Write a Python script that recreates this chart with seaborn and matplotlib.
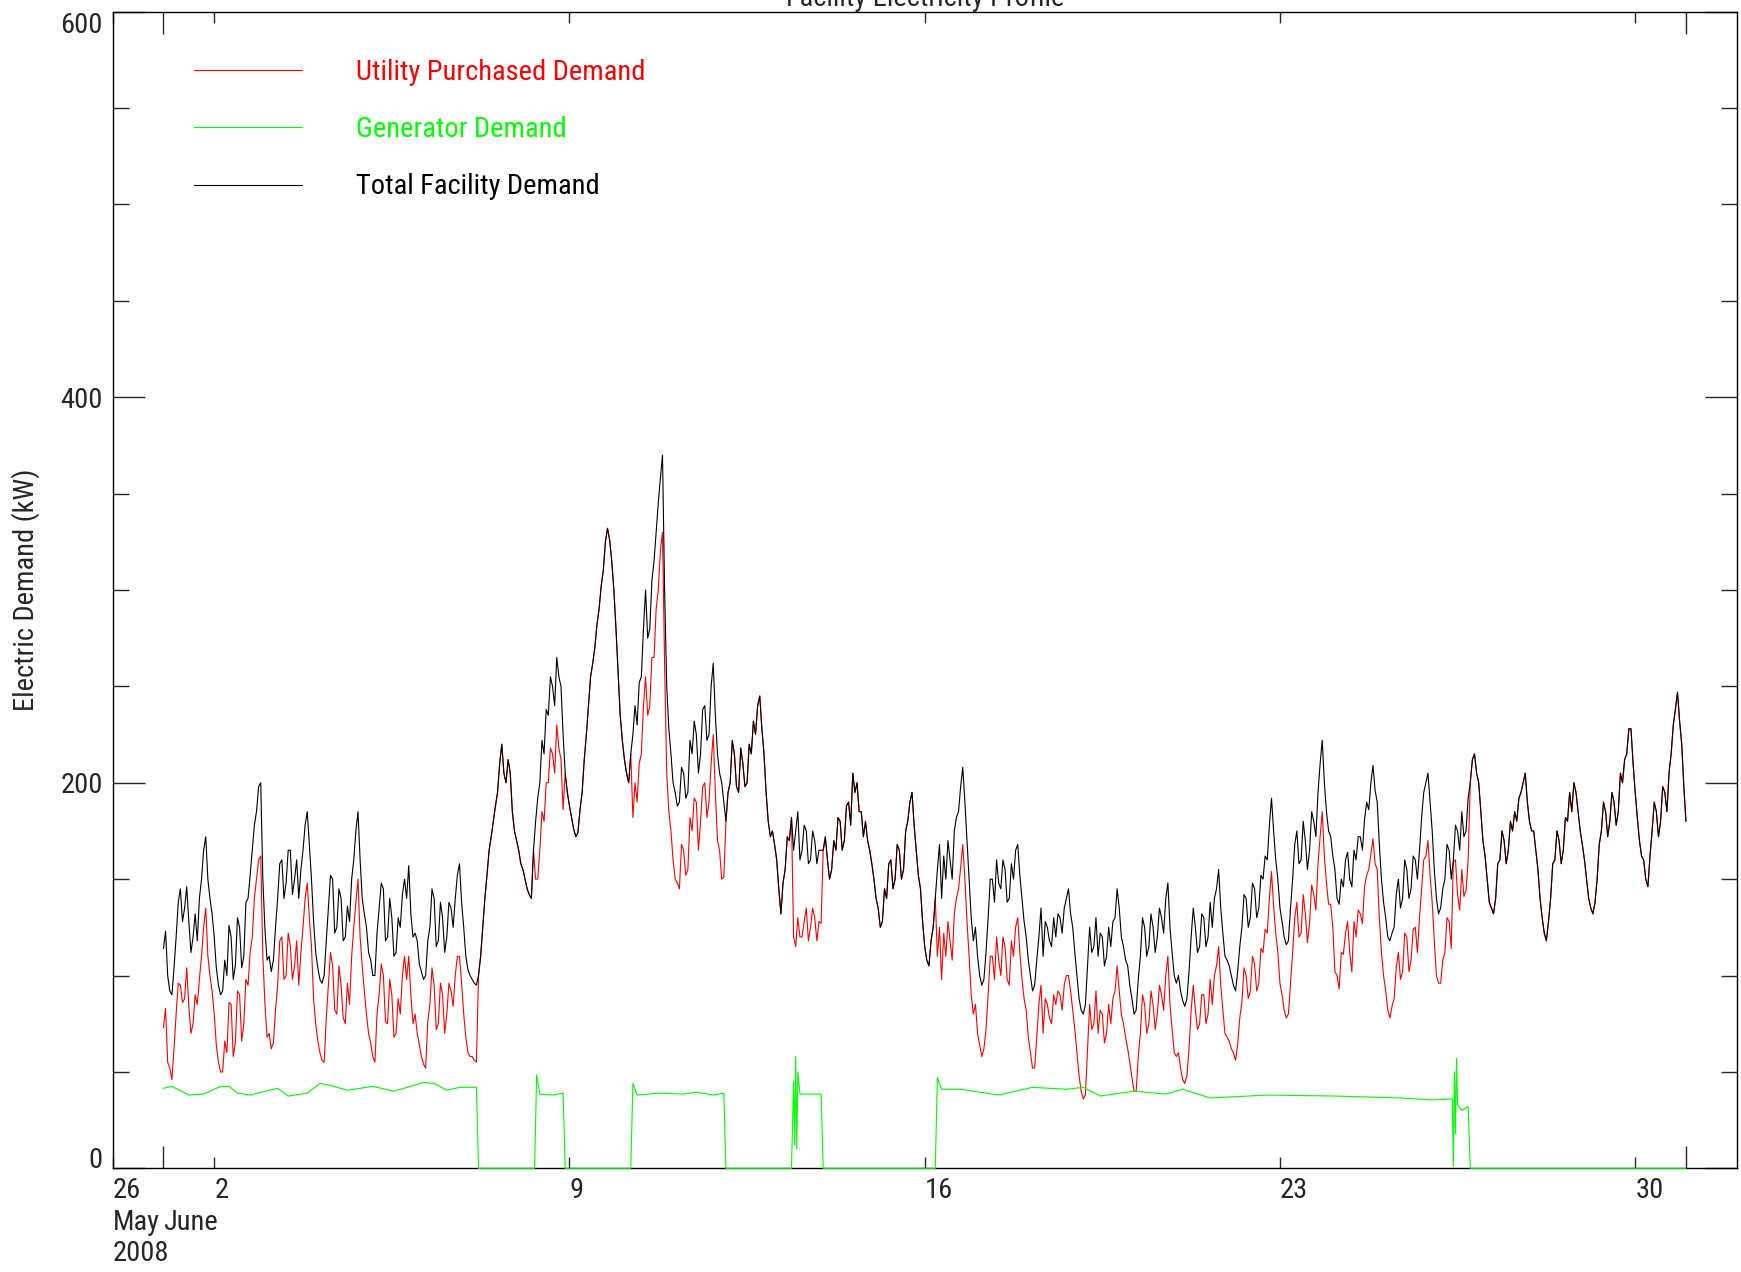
"""
Facility electricity profile, June 2008 (utility / generator / total demand)
"""
import pandas as pd
import numpy as np
import matplotlib
matplotlib.use('Agg')
import matplotlib.pyplot as plt
from matplotlib import font_manager
import seaborn as sns

# ==================== 数据 (hourly readings from 2008-06-01 00:00) ====================
total_kw = [
    114, 123, 100, 92, 90, 104, 120, 138, 145, 128, 135, 146, 128, 112, 120, 132, 118, 140, 150, 165, 172, 150, 140, 132,  # Jun 1
    120, 104, 95, 90, 92, 108, 100, 126, 120, 98, 105, 130, 125, 104, 110, 138, 140, 152, 165, 178, 185, 198, 200, 150,   # Jun 2
    124, 108, 110, 102, 108, 125, 140, 158, 160, 140, 148, 165, 165, 142, 150, 160, 140, 155, 165, 178, 185, 168, 150, 128,  # Jun 3
    112, 104, 98, 96, 100, 118, 135, 152, 150, 122, 125, 145, 140, 118, 120, 136, 128, 150, 160, 175, 185, 160, 140, 132,  # Jun 4
    125, 112, 108, 100, 100, 122, 135, 148, 145, 118, 120, 140, 130, 110, 112, 130, 125, 142, 150, 140, 157, 132, 120, 122,  # Jun 5
    118, 106, 102, 98, 100, 118, 125, 145, 140, 115, 118, 138, 130, 112, 120, 138, 135, 125, 140, 152, 158, 138, 125, 110,  # Jun 6
    103, 100, 98, 96, 95, 100, 110, 125, 140, 152, 165, 172, 180, 188, 195, 210, 220, 205, 200, 212, 205, 185, 175, 170,  # Jun 7
    165, 158, 155, 150, 145, 142, 140, 165, 180, 192, 200, 222, 215, 238, 235, 255, 250, 240, 265, 255, 250, 225, 205, 195,  # Jun 8
    188, 182, 176, 172, 174, 186, 195, 212, 225, 240, 255, 262, 270, 282, 290, 302, 310, 325, 332, 326, 315, 300, 280, 258,  # Jun 9
    235, 222, 212, 205, 200, 215, 225, 240, 230, 252, 255, 280, 300, 275, 280, 305, 315, 330, 345, 358, 370, 300, 250, 228,  # Jun 10
    215, 200, 195, 188, 190, 208, 205, 192, 195, 222, 215, 232, 225, 205, 215, 238, 240, 222, 225, 250, 262, 235, 215, 205,  # Jun 11
    200, 190, 180, 195, 200, 222, 215, 198, 195, 218, 210, 198, 200, 220, 215, 232, 225, 240, 245, 228, 215, 195, 180, 172,  # Jun 12
    175, 168, 160, 145, 132, 148, 155, 172, 170, 182, 165, 175, 185, 160, 165, 178, 175, 158, 160, 175, 170, 158, 165, 165,  # Jun 13
    165, 172, 160, 150, 155, 170, 165, 182, 180, 165, 170, 188, 190, 178, 205, 195, 200, 185, 185, 172, 180, 170, 165, 158,  # Jun 14
    150, 140, 135, 125, 128, 145, 140, 158, 160, 145, 150, 168, 165, 150, 155, 175, 180, 190, 195, 178, 165, 152, 145, 128,  # Jun 15
    115, 108, 105, 118, 125, 140, 155, 168, 140, 162, 150, 170, 160, 150, 175, 182, 185, 198, 208, 190, 170, 150, 130, 118,  # Jun 16
    125, 110, 100, 95, 98, 112, 130, 150, 150, 138, 160, 148, 145, 160, 155, 138, 140, 158, 150, 165, 168, 152, 140, 128,  # Jun 17
    120, 108, 100, 92, 95, 108, 120, 135, 110, 128, 125, 118, 115, 130, 120, 132, 130, 122, 135, 140, 145, 132, 125, 112,  # Jun 18
    100, 88, 82, 80, 85, 105, 125, 112, 115, 130, 110, 122, 120, 105, 110, 125, 115, 128, 130, 145, 135, 120, 115, 108,  # Jun 19
    105, 95, 88, 80, 82, 98, 110, 130, 125, 110, 115, 132, 125, 112, 120, 135, 130, 122, 140, 148, 125, 112, 100, 96,  # Jun 20
    100, 92, 87, 84, 88, 102, 120, 135, 125, 112, 115, 132, 130, 115, 120, 138, 125, 140, 145, 155, 135, 122, 110, 108,  # Jun 21
    105, 100, 95, 92, 102, 115, 125, 142, 140, 125, 130, 148, 145, 130, 135, 152, 150, 162, 160, 178, 192, 175, 160, 150,  # Jun 22
    135, 128, 120, 116, 118, 135, 150, 168, 175, 158, 160, 180, 170, 155, 165, 185, 180, 172, 195, 210, 222, 200, 185, 175,  # Jun 23
    172, 162, 155, 140, 137, 150, 146, 160, 164, 150, 146, 165, 160, 172, 172, 165, 181, 190, 186, 200, 209, 196, 190, 168,  # Jun 24
    150, 138, 130, 120, 118, 122, 125, 142, 150, 135, 140, 160, 155, 140, 145, 162, 160, 150, 165, 182, 195, 200, 205, 190,  # Jun 25
    175, 155, 140, 132, 135, 145, 150, 168, 165, 150, 160, 178, 175, 165, 185, 172, 175, 192, 200, 212, 215, 205, 200, 185,  # Jun 26
    170, 162, 150, 138, 135, 132, 140, 158, 160, 175, 170, 158, 165, 180, 175, 185, 180, 192, 195, 200, 205, 190, 180, 175,  # Jun 27
    175, 165, 155, 140, 130, 122, 118, 128, 140, 158, 160, 175, 170, 158, 165, 182, 180, 195, 185, 200, 195, 185, 175, 168,  # Jun 28
    160, 150, 140, 135, 132, 138, 150, 168, 175, 190, 185, 172, 180, 195, 190, 178, 185, 205, 200, 212, 215, 228, 228, 210,  # Jun 29
    195, 182, 170, 162, 160, 150, 146, 162, 175, 190, 185, 172, 180, 198, 195, 185, 205, 215, 230, 238, 247, 232, 220, 198,  # Jun 30
    180,                                                                                                                     # Jul 1 00:00
]

utility_kw = [
    73, 83, 55, 52, 46, 62, 80, 96, 95, 86, 88, 104, 84, 70, 75, 90, 85, 98, 110, 125, 135, 110, 100, 92,  # Jun 1
    80, 64, 55, 50, 50, 66, 60, 86, 85, 58, 65, 92, 90, 66, 75, 98, 95, 112, 120, 140, 150, 160, 162, 110,  # Jun 2
    85, 68, 70, 62, 65, 82, 95, 118, 120, 98, 100, 122, 115, 98, 105, 118, 95, 112, 125, 140, 148, 130, 115, 88,  # Jun 3
    75, 66, 60, 56, 55, 78, 95, 112, 105, 82, 80, 105, 95, 78, 75, 96, 85, 110, 125, 138, 150, 120, 105, 92,  # Jun 4
    80, 70, 65, 58, 55, 80, 90, 106, 100, 76, 75, 98, 90, 68, 70, 88, 80, 100, 110, 98, 110, 90, 75, 80,  # Jun 5
    70, 64, 58, 54, 52, 76, 85, 104, 95, 72, 75, 96, 90, 70, 80, 96, 92, 84, 100, 110, 110, 96, 80, 68,  # Jun 6
    60, 58, 58, 56, 55, 100, 110, 125, 140, 152, 165, 172, 180, 188, 195, 210, 220, 205, 200, 212, 205, 185, 175, 170,  # Jun 7
    165, 158, 155, 150, 145, 142, 140, 165, 150, 150, 165, 185, 180, 200, 200, 218, 215, 205, 230, 218, 212, 186, 205, 195,  # Jun 8
    188, 182, 176, 172, 174, 186, 195, 212, 225, 240, 255, 262, 270, 282, 290, 302, 310, 325, 332, 326, 315, 300, 280, 258,  # Jun 9
    235, 222, 212, 205, 200, 215, 182, 200, 190, 210, 215, 240, 255, 235, 240, 265, 265, 290, 300, 320, 330, 262, 205, 185,  # Jun 10
    175, 160, 150, 148, 145, 168, 165, 152, 155, 182, 175, 192, 190, 165, 180, 198, 200, 182, 190, 210, 225, 195, 170, 165,  # Jun 11
    150, 151, 180, 195, 200, 222, 215, 198, 195, 218, 210, 198, 200, 220, 215, 232, 225, 240, 245, 228, 215, 195, 180, 172,  # Jun 12
    175, 168, 160, 145, 132, 148, 155, 172, 170, 182, 120, 115, 130, 120, 120, 128, 135, 118, 125, 135, 130, 118, 128, 127,  # Jun 13
    165, 172, 160, 150, 155, 170, 165, 182, 180, 165, 170, 188, 190, 178, 205, 195, 200, 185, 185, 172, 180, 170, 165, 158,  # Jun 14
    150, 140, 135, 125, 128, 145, 140, 158, 160, 145, 150, 168, 165, 150, 155, 175, 180, 190, 195, 178, 165, 152, 145, 128,  # Jun 15
    115, 108, 105, 118, 125, 140, 110, 125, 98, 122, 110, 128, 118, 108, 132, 140, 145, 156, 168, 150, 128, 110, 90, 80,  # Jun 16
    85, 70, 64, 58, 62, 72, 90, 110, 110, 98, 120, 108, 100, 120, 115, 98, 95, 118, 110, 125, 130, 112, 98, 88,  # Jun 17
    82, 68, 60, 52, 52, 68, 85, 95, 70, 88, 85, 78, 75, 90, 85, 92, 90, 82, 95, 100, 100, 92, 82, 72,  # Jun 18
    60, 48, 40, 36, 38, 62, 85, 72, 75, 92, 70, 82, 80, 65, 70, 85, 75, 88, 92, 105, 92, 80, 75, 68,  # Jun 19
    62, 55, 47, 40, 40, 58, 70, 90, 85, 70, 75, 92, 85, 72, 80, 95, 90, 82, 100, 110, 85, 72, 60, 58,  # Jun 20
    60, 52, 46, 44, 48, 62, 82, 95, 82, 72, 75, 90, 90, 75, 80, 98, 85, 100, 105, 115, 95, 82, 70, 68,  # Jun 21
    66, 62, 60, 56, 64, 78, 86, 104, 100, 88, 92, 110, 106, 92, 96, 114, 112, 124, 122, 140, 154, 136, 122, 112,  # Jun 22
    96, 90, 82, 78, 80, 96, 112, 130, 138, 120, 122, 142, 132, 117, 127, 147, 142, 134, 158, 172, 185, 162, 148, 137,  # Jun 23
    137, 125, 102, 100, 93, 112, 111, 122, 128, 112, 102, 128, 120, 134, 132, 127, 146, 152, 155, 163, 171, 158, 155, 130,  # Jun 24
    112, 100, 92, 82, 78, 84, 88, 104, 112, 98, 102, 122, 120, 102, 108, 124, 125, 112, 130, 145, 160, 162, 170, 152,  # Jun 25
    138, 118, 100, 96, 96, 108, 112, 130, 128, 114, 159, 160, 142, 134, 155, 141, 144, 160, 200, 212, 215, 205, 200, 185,  # Jun 26
    170, 162, 150, 138, 135, 132, 140, 158, 160, 175, 170, 158, 165, 180, 175, 185, 180, 192, 195, 200, 205, 190, 180, 175,  # Jun 27
    175, 165, 155, 140, 130, 122, 118, 128, 140, 158, 160, 175, 170, 158, 165, 182, 180, 195, 185, 200, 195, 185, 175, 168,  # Jun 28
    160, 150, 140, 135, 132, 138, 150, 168, 175, 190, 185, 172, 180, 195, 190, 178, 185, 205, 200, 212, 215, 228, 228, 210,  # Jun 29
    195, 182, 170, 162, 160, 150, 146, 162, 175, 190, 185, 172, 180, 198, 195, 185, 205, 215, 230, 238, 247, 232, 220, 198,  # Jun 30
    180,                                                                                                      # Jul 1 00:00
]

# generator: on/off breakpoints
gen_times = [
    '2008-06-01 00:00', '2008-06-01 04:00', '2008-06-01 12:00', '2008-06-01 19:00',
    '2008-06-02 03:00', '2008-06-02 07:00', '2008-06-02 11:00', '2008-06-02 17:00',
    '2008-06-03 06:00', '2008-06-03 11:00', '2008-06-03 20:00', '2008-06-04 02:00',
    '2008-06-04 07:00', '2008-06-04 15:00', '2008-06-05 03:00', '2008-06-05 13:00',
    '2008-06-06 03:00', '2008-06-06 08:00', '2008-06-06 14:00', '2008-06-06 20:00',
    '2008-06-07 04:00', '2008-06-07 05:00',
    '2008-06-08 07:30', '2008-06-08 08:30', '2008-06-08 10:00', '2008-06-08 16:00',
    '2008-06-08 21:00', '2008-06-08 22:00',
    '2008-06-10 05:00', '2008-06-10 06:00', '2008-06-10 08:00', '2008-06-10 18:00',
    '2008-06-11 06:00', '2008-06-11 12:00', '2008-06-11 20:00', '2008-06-12 01:00',
    '2008-06-12 02:00',
    '2008-06-13 09:00', '2008-06-13 10:00', '2008-06-13 10:30', '2008-06-13 11:00',
    '2008-06-13 11:30', '2008-06-13 12:00', '2008-06-13 13:00', '2008-06-13 23:00',
    '2008-06-14 00:00',
    '2008-06-16 05:00', '2008-06-16 06:00', '2008-06-16 08:00', '2008-06-16 17:00',
    '2008-06-17 11:00', '2008-06-18 03:00', '2008-06-18 19:00', '2008-06-19 03:00',
    '2008-06-19 11:00', '2008-06-20 03:00', '2008-06-20 18:00', '2008-06-21 02:00',
    '2008-06-21 15:00', '2008-06-22 18:00', '2008-06-24 01:00', '2008-06-24 17:00',
    '2008-06-25 09:00', '2008-06-26 00:00', '2008-06-26 09:30', '2008-06-26 10:00',
    '2008-06-26 10:30', '2008-06-26 11:00', '2008-06-26 11:30', '2008-06-26 12:00',
    '2008-06-26 14:00', '2008-06-26 17:00', '2008-06-26 18:00',
    '2008-07-01 00:00',
]
gen_kw = [
    41.5, 42.5, 38.0, 38.5,
    42.5, 42.5, 39.0, 38.0,
    41.5, 37.5, 39.0, 44.0,
    43.0, 40.5, 42.5, 40.0,
    44.5, 44.0, 40.5, 42.0,
    42.0, 0,
    0, 48.5, 38.5, 38.0,
    39.0, 0,
    0, 44.0, 38.0, 39.0,
    38.5, 39.5, 38.0, 39.0,
    0,
    0, 45.0, 12.0, 58.0,
    10.0, 50.0, 38.5, 38.5,
    0,
    0, 47.0, 41.0, 41.0,
    38.0, 42.0, 41.0, 42.0,
    37.5, 40.0, 38.5, 41.0,
    36.5, 38.0, 37.5, 37.0,
    36.5, 35.5, 36.0, 1.0,
    50.0, 18.0, 57.0, 33.0,
    30.0, 32.0, 0,
    0,
]

x_ticks = ['2008-05-31', '2008-06-02', '2008-06-09', '2008-06-16', '2008-06-23', '2008-06-30']
x_tick_labels = ['26', '2', '9', '16', '23', '30']
month_marks = ['2008-06-01', '2008-07-01']

assert len(total_kw) == len(utility_kw) == 721
times = pd.date_range('2008-06-01 00:00', periods=len(total_kw), freq='h')
df = pd.DataFrame({'time': times, 'total': total_kw, 'utility': utility_kw})
df_gen = pd.DataFrame({'time': pd.to_datetime(gen_times), 'gen': gen_kw})

# ==================== 样式 ====================
sns.set_style('white')
names = {f.name for f in font_manager.fontManager.ttflist}
fam = [f for f in ['Liberation Sans Narrow', 'Roboto Condensed', 'Liberation Sans'] if f in names]
plt.rcParams['font.family'] = fam + ['DejaVu Sans']
FS = 20.5

W, H = 1741, 1272
fig = plt.figure(figsize=(W / 100, H / 100), dpi=100)
ax_l, ax_r, ax_t, ax_b = 112.7, 1736.7, 11.7, 1168.3
ax = fig.add_axes([ax_l / W, 1 - ax_b / H, (ax_r - ax_l) / W, (ax_b - ax_t) / H])

sns.lineplot(data=df, x='time', y='utility', ax=ax, color='#ff0000', lw=0.8,
             label='Utility Purchased Demand', estimator=None, sort=False)
sns.lineplot(data=df_gen, x='time', y='gen', ax=ax, color='#00ff00', lw=0.8,
             label='Generator Demand', estimator=None, sort=False, clip_on=False, zorder=3)
sns.lineplot(data=df, x='time', y='total', ax=ax, color='black', lw=0.8,
             label='Total Facility Demand', estimator=None, sort=False)

ax.set_xlim(pd.Timestamp('2008-05-31'), pd.Timestamp('2008-07-02'))
ax.set_ylim(0, 600)
ax.set_xlabel('')
ax.set_ylabel('')

# y axis
ax.set_yticks([0, 200, 400, 600])
ax.set_yticks(np.arange(0, 601, 50), minor=True)
ax.tick_params(axis='y', which='major', direction='in', length=23, width=1,
               left=True, right=True, labelsize=FS, pad=7)
ax.tick_params(axis='y', which='minor', direction='in', length=11.5, width=1,
               left=True, right=True)
ylbls = ax.get_yticklabels()
ylbls[0].set_va('baseline')
ylbls[-1].set_va('top')

# x axis
ax.set_xticks(pd.to_datetime(x_ticks), labels=x_tick_labels, ha='left')
ax.set_xticks(pd.to_datetime(month_marks), minor=True)
ax.tick_params(axis='x', which='major', direction='in', length=8, width=1,
               top=True, bottom=True, labelsize=FS, pad=6)
ax.tick_params(axis='x', which='minor', direction='in', length=16, width=1,
               top=True, bottom=True)
for txt, day, off in [('May', '2008-05-31', -41), ('June', '2008-06-01', -41),
                      ('2008', '2008-05-31', -72)]:
    ax.annotate(txt, xy=(pd.Timestamp(day), 0), xycoords=('data', 'axes fraction'),
                xytext=(0, off), textcoords='offset pixels', ha='left', va='top',
                fontsize=FS)

for sp in ax.spines.values():
    sp.set_linewidth(1.0)
    sp.set_color('black')

ax.set_title('Facility Electricity Profile', fontsize=FS, pad=3)
fig.text(25.5 / W, 1 - 590 / H, 'Electric Demand (kW)', rotation=90,
         ha='center', va='center', fontsize=FS)

ax.legend(loc='upper left', bbox_to_anchor=(0.0501, 0.9595), frameon=False,
          fontsize=FS, handlelength=3.8, handletextpad=1.9, labelspacing=1.07,
          borderpad=0, borderaxespad=0, labelcolor='linecolor')

fig.savefig('out.png', dpi=100)
plt.close(fig)
